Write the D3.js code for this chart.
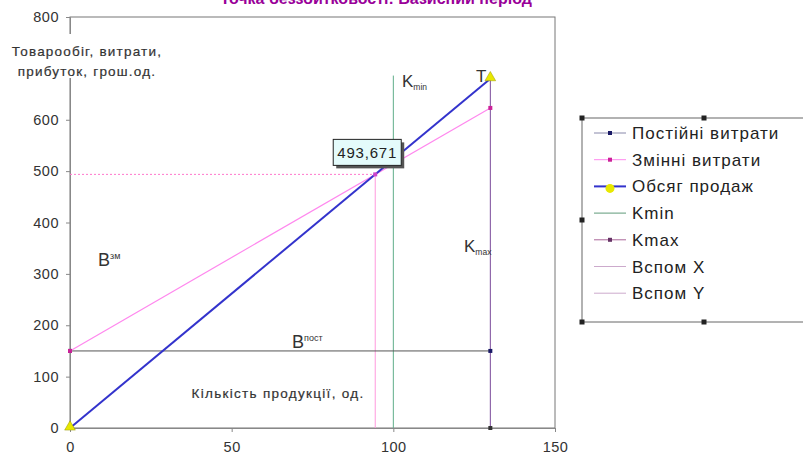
<!DOCTYPE html>
<html><head><meta charset="utf-8">
<script src="https://cdn.jsdelivr.net/npm/d3@7"></script>
<style>body{margin:0;background:#fff;} svg{font-family:"Liberation Sans",Arial,sans-serif;}</style>
</head><body>
<svg id="c" width="803" height="460"></svg>
<script>
const titleText = "Точка беззбитковості: Базисний період";
const xTicks = [0, 50, 100, 150];
const yTicks = [0, 100, 200, 300, 400, 500, 600, 700, 800];
const hiddenYTickLabels = [700];
const fixedCosts = [{x: 0, y: 150}, {x: 130, y: 150}];
const variableCosts = [{x: 0, y: 150}, {x: 130, y: 623}];
const salesVolume = [{x: 0, y: 0}, {x: 130, y: 680}];
const kmin = [{x: 100, y: 0}, {x: 100, y: 686}];
const kmax = [{x: 130, y: 0}, {x: 130, y: 680}];
const helperX = [{x: 94.4, y: 0}, {x: 94.4, y: 493.671}];
const helperY = [{x: 0, y: 493.671}, {x: 94.4, y: 493.671}];
const breakEven = {x: 94.4, y: 493.671, label: "493,671"};
const legendNames = ["Постійні витрати", "Змінні витрати", "Обсяг продаж", "Kmin", "Kmax", "Вспом X", "Вспом Y"];

const svg = d3.select("#c");
const x = d3.scaleLinear().domain([0, 150]).range([70, 555]);
const y = d3.scaleLinear().domain([0, 800]).range([428, 17]);

// plot frame
svg.append("rect").attr("x", 70).attr("y", 17).attr("width", 485).attr("height", 411)
  .attr("fill", "none").attr("stroke", "#777").attr("stroke-width", 1);

// axes
const ya = svg.append("g").attr("transform", "translate(70,0)")
  .call(d3.axisLeft(y).tickValues(yTicks).tickSize(4)
    .tickFormat(d => hiddenYTickLabels.includes(d) ? "" : d3.format("d")(d)));
ya.select(".domain").attr("stroke", "#888");
ya.selectAll(".tick line").attr("stroke", "#888");
ya.selectAll("text").attr("font-size", 14.5).attr("fill", "#333").attr("x", -11).attr("letter-spacing", 0.5);

const xa = svg.append("g").attr("transform", "translate(0,428)")
  .call(d3.axisBottom(x).tickValues(xTicks).tickSize(4).tickFormat(d3.format("d")));
xa.select(".domain").attr("stroke", "#888");
xa.selectAll(".tick line").attr("stroke", "#888");
xa.selectAll("text").attr("font-size", 14.5).attr("fill", "#333").attr("y", 14).attr("letter-spacing", 0.5);

const line = d3.line().x(d => x(d.x)).y(d => y(d.y));

// helper lines
svg.append("path").datum(helperY).attr("d", line).attr("fill", "none")
  .attr("stroke", "#ff77cc").attr("stroke-width", 1).attr("stroke-dasharray", "2,2");
svg.append("path").datum(helperX).attr("d", line).attr("fill", "none")
  .attr("stroke", "#ff99dd").attr("stroke-width", 1);

// Kmin
svg.append("path").datum(kmin).attr("d", line).attr("fill", "none")
  .attr("stroke", "#5fae8a").attr("stroke-width", 1);
// Kmax
svg.append("path").datum(kmax).attr("d", line).attr("fill", "none")
  .attr("stroke", "#7a4a9a").attr("stroke-width", 1);
svg.selectAll(".kmaxm").data(kmax.slice(0, 1)).enter().append("rect")
  .attr("x", d => x(d.x) - 2).attr("y", d => y(d.y) - 2).attr("width", 4).attr("height", 4).attr("fill", "#333");

// fixed costs
svg.append("path").datum(fixedCosts).attr("d", line).attr("fill", "none")
  .attr("stroke", "#555").attr("stroke-width", 1);
svg.selectAll(".fm").data(fixedCosts).enter().append("rect")
  .attr("x", d => x(d.x) - 2).attr("y", d => y(d.y) - 2).attr("width", 4).attr("height", 4).attr("fill", "#1a1a66");

// variable costs
svg.append("path").datum(variableCosts).attr("d", line).attr("fill", "none")
  .attr("stroke", "#ff88ee").attr("stroke-width", 1.2);
svg.selectAll(".vm").data(variableCosts).enter().append("rect")
  .attr("x", d => x(d.x) - 2).attr("y", d => y(d.y) - 2).attr("width", 4).attr("height", 4).attr("fill", "#cc2299");

// sales
svg.append("path").datum(salesVolume).attr("d", line).attr("fill", "none")
  .attr("stroke", "#3333cc").attr("stroke-width", 2);
const tri = d3.symbol().type(d3.symbolTriangle).size(50);
svg.selectAll(".sm").data(salesVolume).enter().append("path")
  .attr("d", tri).attr("transform", d => `translate(${x(d.x)},${y(d.y) - 1})`)
  .attr("fill", "#e8e800").attr("stroke", "#999900").attr("stroke-width", 0.5);

// break-even point marker
svg.append("rect").attr("x", x(breakEven.x) - 2).attr("y", y(breakEven.y) - 2)
  .attr("width", 4).attr("height", 4).attr("fill", "#cc44cc");

// data label
const lbx = x(breakEven.x) - 42, lby = y(breakEven.y) - 35;
svg.append("rect").attr("x", lbx + 3).attr("y", lby + 3).attr("width", 68).attr("height", 26).attr("fill", "#555");
svg.append("rect").attr("x", lbx).attr("y", lby).attr("width", 68).attr("height", 26)
  .attr("fill", "#e4fbfb").attr("stroke", "#222").attr("stroke-width", 1);
svg.append("text").attr("x", lbx + 34).attr("y", lby + 18.5).attr("text-anchor", "middle")
  .attr("font-size", 15).attr("letter-spacing", 0.8).attr("fill", "#222").text(breakEven.label);

// annotations
function sub(xp, yp, main, s, size, isSup) {
  const t = svg.append("text").attr("x", xp).attr("y", yp).attr("font-size", size).attr("fill", "#333");
  t.append("tspan").text(main);
  t.append("tspan").attr("font-size", size * 0.5).attr("dy", isSup ? -size * 0.4 : size * 0.15).text(s);
}
sub(402, 87, "K", "min", 17, false);
sub(464, 252, "K", "max", 17, false);
sub(98, 266, "B", "зм", 18, true);
sub(292, 348, "B", "пост", 18, true);
svg.append("text").attr("x", 476).attr("y", 82).attr("font-size", 17).attr("fill", "#333").text("T");

svg.append("text").attr("x", 278).attr("y", 398).attr("text-anchor", "middle")
  .attr("font-size", 13.5).attr("letter-spacing", 1.3).attr("fill", "#333").attr("stroke", "#333").attr("stroke-width", 0.2)
  .text("Кількість продукції, од.");

// y axis title (white box covering axis)
svg.append("rect").attr("x", 0).attr("y", 34).attr("width", 174).attr("height", 44).attr("fill", "#fff");
svg.append("text").attr("x", 87).attr("y", 56).attr("text-anchor", "middle")
  .attr("font-size", 13.5).attr("letter-spacing", 1.2).attr("fill", "#333").attr("stroke", "#333").attr("stroke-width", 0.2)
  .text("Товарообіг, витрати,");
svg.append("text").attr("x", 87).attr("y", 76).attr("text-anchor", "middle")
  .attr("font-size", 13.5).attr("letter-spacing", 1.2).attr("fill", "#333").attr("stroke", "#333").attr("stroke-width", 0.2)
  .text("прибуток, грош.од.");

// title
svg.append("text").attr("x", 376).attr("y", 4).attr("text-anchor", "middle")
  .attr("font-size", 16).attr("font-weight", "bold").attr("fill", "#990099").text(titleText);

// legend
const lg = svg.append("g");
lg.append("rect").attr("x", 582).attr("y", 118).attr("width", 240).attr("height", 204)
  .attr("fill", "#fff").attr("stroke", "#666").attr("stroke-width", 1);
[[582,118],[704,118],[582,220],[582,322],[704,322]].forEach(p => {
  lg.append("rect").attr("x", p[0] - 2.5).attr("y", p[1] - 2.5).attr("width", 5).attr("height", 5).attr("fill", "#222");
});
const legStyle = [
  {stroke: "#8888aa", w: 1, m: "sq", mc: "#1a1a66"},
  {stroke: "#ff88ee", w: 1, m: "sq", mc: "#cc2299"},
  {stroke: "#3333cc", w: 2, m: "circ", mc: "#e8e800"},
  {stroke: "#5f9a7a", w: 1, m: null},
  {stroke: "#aa6699", w: 1, m: "sq", mc: "#663366"},
  {stroke: "#ccaacc", w: 1, m: null},
  {stroke: "#ccaacc", w: 1, m: null}
];
legendNames.forEach((name, i) => {
  const yy = 133 + i * 26.7;
  const s = legStyle[i];
  lg.append("line").attr("x1", 594).attr("x2", 626).attr("y1", yy).attr("y2", yy)
    .attr("stroke", s.stroke).attr("stroke-width", s.w);
  if (s.m === "sq") lg.append("rect").attr("x", 608).attr("y", yy - 2).attr("width", 4).attr("height", 4).attr("fill", s.mc);
  if (s.m === "circ") lg.append("circle").attr("cx", 610).attr("cy", yy + 2).attr("r", 4.5).attr("fill", s.mc);
  lg.append("text").attr("x", 632).attr("y", yy + 6).attr("font-size", 17).attr("letter-spacing", 1).attr("fill", "#222").text(name);
});
</script>
</body></html>
